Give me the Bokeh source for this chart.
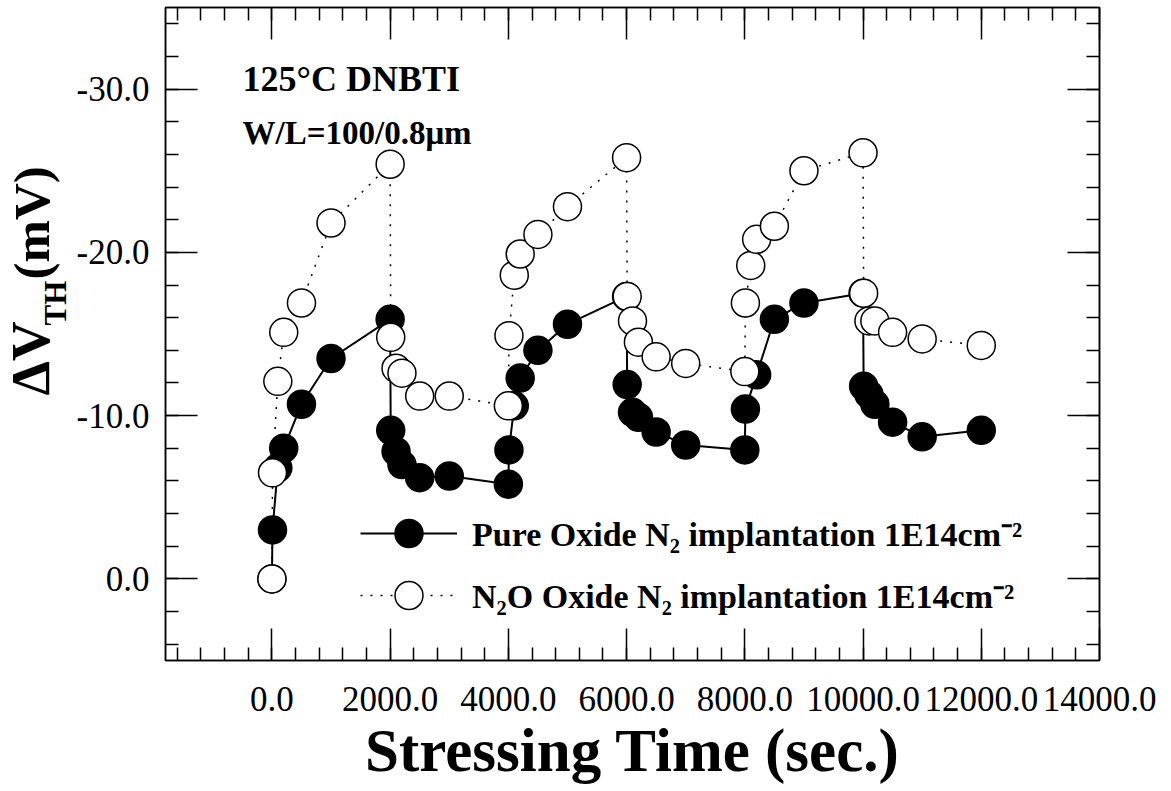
import numpy as np
from bokeh.plotting import figure
from bokeh.layouts import row
from bokeh.models import (Range1d, FixedTicker, PrintfTickFormatter, LinearAxis,
                          Label, Legend, LegendItem, ColumnDataSource,
                          CustomLabelingPolicy)
from bokeh.core.properties import value
from bokeh.embed import file_html
from bokeh.resources import INLINE

# ---- data ----
pure_t = [0, 10, 100, 200, 500, 1000, 2000,
          2010, 2100, 2200, 2500, 3000, 4000,
          4010, 4100, 4200, 4500, 5000, 6000,
          6010, 6100, 6200, 6500, 7000, 8000,
          8010, 8200, 8500, 9000, 10000,
          10010, 10100, 10200, 10500, 11000, 12000]
pure_v = [0.0, -3.0, -6.8, -8.0, -10.7, -13.5, -15.9,
          -9.1, -7.8, -7.0, -6.2, -6.3, -5.8,
          -7.9, -10.6, -12.3, -14.0, -15.6, -17.3,
          -11.9, -10.2, -9.9, -9.0, -8.2, -7.9,
          -10.4, -12.5, -15.9, -16.9, -17.5,
          -11.8, -11.3, -10.7, -9.6, -8.7, -9.1]

n2o_t = [0, 10, 100, 200, 500, 1000, 2000,
         2010, 2100, 2200, 2500, 3000, 4000,
         4010, 4100, 4200, 4500, 5000, 6000,
         6010, 6100, 6200, 6500, 7000, 8000,
         8010, 8100, 8200, 8500, 9000, 10000,
         10010, 10100, 10200, 10500, 11000, 12000]
n2o_v = [0.0, -6.5, -12.1, -15.1, -16.9, -21.8, -25.4,
         -14.8, -12.9, -12.6, -11.2, -11.2, -10.6,
         -14.9, -18.6, -19.9, -21.1, -22.8, -25.8,
         -17.3, -15.8, -14.5, -13.6, -13.2, -12.7,
         -16.9, -19.2, -20.8, -21.6, -25.0, -26.1,
         -17.5, -15.8, -15.8, -15.1, -14.7, -14.3]

x_major = [0, 2000, 4000, 6000, 8000, 10000, 12000, 14000]
x_minor = list(range(-1600, 14000, 400))
y_major = [-30, -20, -10, 0]
y_minor = list(range(-34, 5, 2))

label_pure = "Pure Oxide N\u2082 implantation 1E14cm\u207b\u00b2"
label_n2o = "N\u2082O Oxide N\u2082 implantation 1E14cm\u207b\u00b2"

SERIF = "Liberation Serif"
STRIP = 73  # width of the y-title strip

# ---------------- main plot ----------------
p = figure(width=1171 - STRIP, height=791, output_backend="svg",
           toolbar_location=None,
           x_range=Range1d(-1800, 14000), y_range=Range1d(5, -35),
           x_axis_type=None, y_axis_type=None,
           min_border_left=163 - STRIP, min_border_right=72,
           min_border_top=7, min_border_bottom=131)
p.outline_line_color = "black"
p.outline_line_width = 1.5
p.background_fill_color = "white"
p.border_fill_color = "white"

no_labels = CustomLabelingPolicy(code="return new Set()")


def style_axis(ax, major, minor, show_labels, standoff=18):
    ax.ticker = FixedTicker(ticks=major, minor_ticks=minor)
    ax.major_tick_in = 32
    ax.major_tick_out = 0
    ax.minor_tick_in = 13
    ax.minor_tick_out = 0
    ax.major_tick_line_color = "black"
    ax.minor_tick_line_color = "black"
    ax.major_tick_line_width = 1.5
    ax.minor_tick_line_width = 1.5
    ax.axis_line_color = "black"
    ax.axis_line_width = 1.5
    if show_labels:
        ax.formatter = PrintfTickFormatter(format="%.1f")
        ax.major_label_text_font = SERIF
        ax.major_label_text_font_size = "35px"
        ax.major_label_text_color = "black"
        ax.major_label_standoff = standoff
    else:
        ax.major_label_policy = no_labels
        ax.major_label_text_font_size = "0px"
        ax.major_label_standoff = 0


xb = LinearAxis()
style_axis(xb, x_major, x_minor, True, standoff=26)
xb.axis_label = "Stressing Time (sec.)"
xb.axis_label_text_font = SERIF
xb.axis_label_text_font_style = "bold"
xb.axis_label_text_font_size = "61px"
xb.axis_label_text_color = "black"
xb.axis_label_text_line_height = 1.0
xb.major_label_text_line_height = 1.0
xb.axis_label_standoff = 3
p.add_layout(xb, "below")

xt = LinearAxis()
style_axis(xt, x_major, x_minor, False)
p.add_layout(xt, "above")

yl = LinearAxis()
style_axis(yl, y_major, y_minor, True, standoff=16)
p.add_layout(yl, "left")

yr = LinearAxis()
style_axis(yr, y_major, y_minor, False)
p.add_layout(yr, "right")

src_pure = ColumnDataSource(dict(t=pure_t, v=pure_v))
src_n2o = ColumnDataSource(dict(t=n2o_t, v=n2o_v))

l1 = p.line("t", "v", source=src_pure, line_color="black", line_width=2)
s1 = p.scatter("t", "v", source=src_pure, size=28, marker="circle",
               fill_color="black", line_color="black", line_width=1.5)
l2 = p.line("t", "v", source=src_n2o, line_color="black", line_width=1.5,
            line_dash="2 8")
s2 = p.scatter("t", "v", source=src_n2o, size=28, marker="circle",
               fill_color="white", line_color="black", line_width=1.5)

leg_style = dict(glyph_width=97, glyph_height=70, label_standoff=15,
                 padding=0, margin=0, border_line_color=None,
                 background_fill_alpha=0, label_text_font=SERIF,
                 label_text_font_style="bold", label_text_font_size="34px",
                 label_text_color="black", label_height=62)
leg1 = Legend(items=[LegendItem(label=value(label_pure), renderers=[l1, s1])],
              location=(195, 92), **leg_style)
leg2 = Legend(items=[LegendItem(label=value(label_n2o), renderers=[l2, s2])],
              location=(195, 30), **leg_style)
p.add_layout(leg1)
p.add_layout(leg2)

# annotation text
ann = dict(x_units="screen", y_units="screen", text_font=SERIF,
           text_font_style="bold", text_color="black",
           text_baseline="alphabetic", text_align="left")
p.add_layout(Label(x=77, y=582, text="125\u00b0C DNBTI",
                   text_font_size="36px", **ann))
p.add_layout(Label(x=77, y=528, text="W/L=100/0.8\u03bcm",
                   text_font_size="33px", **ann))

# ---------------- y-axis title strip ----------------
yt = figure(width=STRIP, height=791, output_backend="svg", toolbar_location=None,
            x_range=Range1d(0, 1), y_range=Range1d(0, 1),
            x_axis_type=None, y_axis_type=None,
            min_border_left=0, min_border_right=0,
            min_border_top=7, min_border_bottom=131)
yt.outline_line_color = None
yt.background_fill_color = "white"
yt.border_fill_color = "white"

rot = dict(x_units="screen", y_units="screen", angle=np.pi / 2,
           text_font=SERIF, text_font_style="bold", text_color="black",
           text_baseline="alphabetic", text_align="left")
yt.add_layout(Label(x=30, y=265, text="\u0394V", text_font_size="55px", **rot))
yt.add_layout(Label(x=55, y=335, text="TH", text_font_size="31px", **rot))
yt.add_layout(Label(x=31, y=381, text="(mV)", text_font_size="51px", **rot))

layout = row(yt, p)

open("out.html", "w").write(file_html(layout, INLINE))
